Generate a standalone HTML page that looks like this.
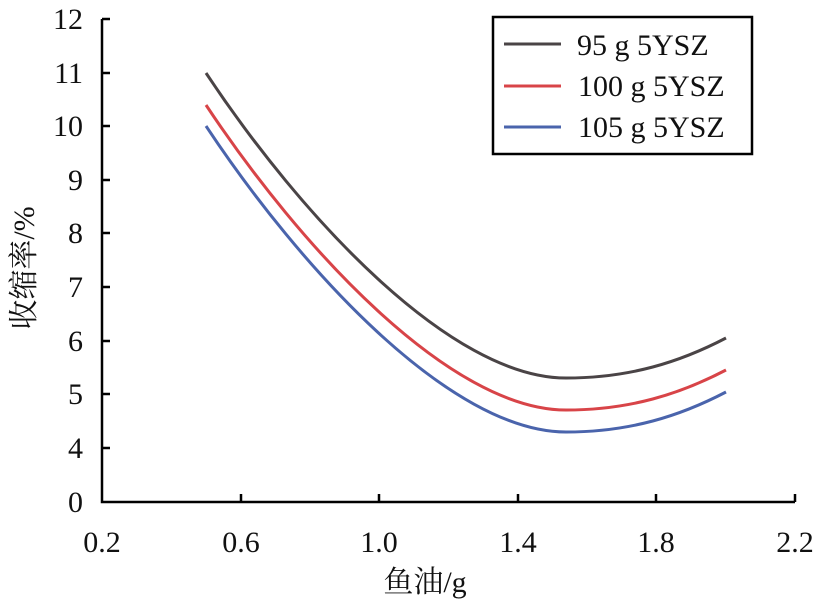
<!DOCTYPE html>
<html><head><meta charset="utf-8"><style>body{margin:0;background:#fff}svg{display:block}</style></head><body>
<svg width="818" height="605" viewBox="0 0 818 605" xmlns="http://www.w3.org/2000/svg" font-family="'Liberation Serif','Noto Serif CJK SC',serif" font-size="30" fill="#111">
<g stroke="#000" stroke-width="2.5" fill="none">
<path d="M102,19 V502 H795"/>
<path d="M102,448h8M102,394h8M102,341h8M102,287h8M102,233h8M102,180h8M102,126h8M102,73h8M102,19h8"/>
<path d="M241,502v-8M379,502v-8M518,502v-8M656,502v-8M795,502v-8"/>
</g>
<g text-anchor="end">
<text x="83" y="512">0</text><text x="83" y="458">4</text><text x="83" y="404">5</text><text x="83" y="351">6</text><text x="83" y="297">7</text><text x="83" y="243">8</text><text x="83" y="190">9</text><text x="83" y="136">10</text><text x="83" y="83">11</text><text x="83" y="29">12</text>
</g>
<g text-anchor="middle">
<text x="102" y="552">0.2</text><text x="241" y="552">0.6</text><text x="379" y="552">1.0</text><text x="518" y="552">1.4</text><text x="656" y="552">1.8</text><text x="795" y="552">2.2</text>
<text x="425" y="592">鱼油/g</text>
<text transform="translate(34,268) rotate(-90)">收缩率/%</text>
</g>
<g fill="none" stroke-width="3">
<path stroke="#4a4446" d="M206,73 C300,215 450,378 566,378 C630,378 680,362 726,338"/>
<path stroke="#d84448" d="M206,105 C300,247 450,410 566,410 C630,410 680,394 726,370"/>
<path stroke="#4a64ac" d="M206,126 C300,268 450,432 566,432 C630,432 680,416 726,392"/>
</g>
<rect x="493" y="17" width="259" height="137" fill="none" stroke="#000" stroke-width="2.5"/>
<g stroke-width="3">
<line x1="504" y1="44" x2="561" y2="44" stroke="#4a4446"/>
<line x1="504" y1="86" x2="561" y2="86" stroke="#d84448"/>
<line x1="504" y1="127" x2="561" y2="127" stroke="#4a64ac"/>
</g>
<g font-size="30">
<text x="577" y="55">95 g 5YSZ</text>
<text x="578" y="96">100 g 5YSZ</text>
<text x="578" y="137">105 g 5YSZ</text>
</g>
</svg>
</body></html>
